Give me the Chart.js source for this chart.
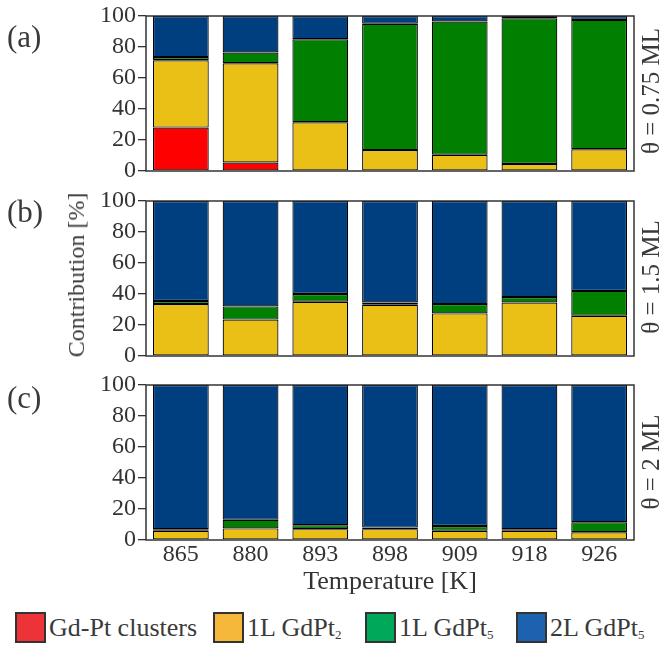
<!DOCTYPE html>
<html>
<head>
<meta charset="utf-8">
<script src="https://cdn.jsdelivr.net/npm/chart.js@4.4.1/dist/chart.umd.min.js"></script>
<style>
  body { margin: 0; background: #fff; width: 662px; height: 645px; position: relative; overflow: hidden; font-family: "Liberation Serif", "DejaVu Serif", serif; color: #3a3a3a; }
  .panel { position: absolute; left: 0; width: 662px; }
  .lbl { position: absolute; white-space: nowrap; line-height: 1; }
  .rot { transform: translate(-50%, -50%) rotate(-90deg); }
  .legend-item { position: absolute; top: 612px; display: flex; align-items: center; font-size: 26px; }
  .legend-item .box { width: 27px; height: 27px; border: 2.5px solid #333; margin-right: 3px; flex: none; }
  .legend-item sub { font-size: 13px; vertical-align: -3px; line-height: 0; }
</style>
</head>
<body>
<div class="panel" style="top:0; height:185px"><canvas id="chartA"></canvas></div>
<div class="panel" style="top:185px; height:185px"><canvas id="chartB"></canvas></div>
<div class="panel" style="top:370px; height:230px"><canvas id="chartC"></canvas></div>

<div class="lbl" style="left:7px; top:21px; font-size:31px">(a)</div>
<div class="lbl" style="left:7px; top:196px; font-size:31px">(b)</div>
<div class="lbl" style="left:7px; top:382px; font-size:31px">(c)</div>

<div class="lbl rot" style="left:76px; top:275px; font-size:24px">Contribution [%]</div>
<div class="lbl rot" style="left:650px; top:91px; font-size:25px">&theta; = 0.75 ML</div>
<div class="lbl rot" style="left:650px; top:277px; font-size:25px">&theta; = 1.5 ML</div>
<div class="lbl rot" style="left:650px; top:462px; font-size:25px">&theta; = 2 ML</div>

<div class="legend-item" style="left:15px"><div class="box" style="background:#ee3338"></div><span>Gd-Pt clusters</span></div>
<div class="legend-item" style="left:213px"><div class="box" style="background:#f6b83a"></div><span>1L GdPt<sub>2</sub></span></div>
<div class="legend-item" style="left:365px"><div class="box" style="background:#00a85a"></div><span>1L GdPt<sub>5</sub></span></div>
<div class="legend-item" style="left:516px"><div class="box" style="background:#1c62ae"></div><span>2L GdPt<sub>5</sub></span></div>

<script>
// temperatures (K)
const temps = ['865', '880', '893', '898', '909', '918', '926'];
const yTicks = [0, 20, 40, 60, 80, 100];

// contributions in % (segment heights, bottom to top)
// (a) theta = 0.75 ML
const clustersA = [28, 5.5, 0, 0, 0, 0, 0];
const gdpt2A    = [43.5, 64, 31.5, 13.5, 10.5, 4.5, 14];
const gdpt5A    = [2, 7, 53.5, 81.5, 86, 94, 83.5];
const gdpt5_2LA = [26.5, 23.5, 15, 5, 3.5, 1.5, 2.5];

// (b) theta = 1.5 ML
const clustersB = [0, 0, 0, 0, 0, 0, 0];
const gdpt2B    = [33.5, 23.5, 35, 33, 27.5, 34.5, 26];
const gdpt5B    = [2, 8.5, 5, 1.5, 6, 3.5, 16];
const gdpt5_2LB = [64.5, 68, 60, 65.5, 66.5, 62, 58];

// (c) theta = 2 ML
const clustersC = [0, 0, 0, 0, 0, 0, 0];
const gdpt2C    = [6, 7.5, 7, 7, 6, 6, 5];
const gdpt5C    = [1, 5.5, 2.5, 1, 3, 1, 6.5];
const gdpt5_2LC = [93, 87, 90.5, 92, 91, 93, 88.5];

const barColors = ['#ff0000', '#ebc016', '#007f00', '#003f7f'];
const names = ['Gd-Pt clusters', '1L GdPt2', '1L GdPt5', '2L GdPt5'];
const serif = "'Liberation Serif', 'Times New Roman', serif";
const tickFont = { family: serif, size: 24, lineHeight: 1 };
const textColor = '#333';

Chart.defaults.font.family = serif;

// box around the plot area
const framePlugin = {
  id: 'frame',
  afterDraw(chart) {
    const { ctx, chartArea: a } = chart;
    ctx.save();
    ctx.strokeStyle = '#333';
    ctx.lineWidth = 1.5;
    ctx.strokeRect(a.left, a.top, a.right - a.left, a.bottom - a.top);
    ctx.restore();
  }
};

function makePanel(id, series, showX) {
  const datasets = series.map((data, i) => ({
    label: names[i],
    data: data,
    backgroundColor: barColors[i],
    borderColor: '#000',
    borderWidth: 1.2,
    borderSkipped: false,
    barPercentage: 0.8,
    categoryPercentage: 1.0
  }));

  return new Chart(document.getElementById(id), {
    type: 'bar',
    data: { labels: temps, datasets: datasets },
    options: {
      responsive: true,
      maintainAspectRatio: false,
      animation: false,
      layout: { padding: { left: 0, right: 28, top: showX ? 15 : 16, bottom: showX ? 0 : 14 } },
      plugins: { legend: { display: false }, tooltip: { enabled: false } },
      scales: {
        x: {
          display: showX,
          stacked: true,
          grid: { display: false, drawTicks: false },
          border: { display: false },
          ticks: { font: tickFont, color: textColor, padding: 3, maxRotation: 0 },
          title: {
            display: showX,
            text: 'Temperature [K]',
            font: { family: serif, size: 26, lineHeight: 1.2 },
            color: textColor,
            padding: { top: 0, bottom: 2 }
          },
          afterFit(scale) { if (showX) scale.height = 60; }
        },
        y: {
          stacked: true,
          min: 0,
          max: 100,
          afterBuildTicks(scale) { scale.ticks = yTicks.map(v => ({ value: v })); },
          grid: { drawOnChartArea: false, drawTicks: true, tickLength: 8, color: '#333', lineWidth: 1.3 },
          border: { display: false },
          ticks: { font: tickFont, color: textColor, padding: 2, autoSkip: false },
          afterFit(scale) { scale.width = 146; }
        }
      }
    },
    plugins: [framePlugin]
  });
}

// make sure the serif face is ready before the canvases draw text
document.fonts.load("24px 'Liberation Serif'").finally(() => {
  makePanel('chartA', [clustersA, gdpt2A, gdpt5A, gdpt5_2LA], false);
  makePanel('chartB', [clustersB, gdpt2B, gdpt5B, gdpt5_2LB], false);
  makePanel('chartC', [clustersC, gdpt2C, gdpt5C, gdpt5_2LC], true);
});
</script>
</body>
</html>
